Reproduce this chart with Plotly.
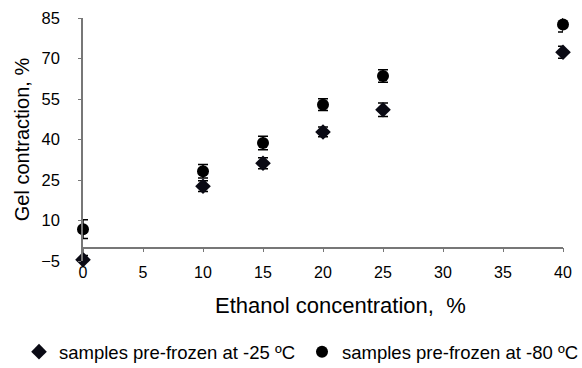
import plotly.graph_objects as go

ethanol = [0, 10, 15, 20, 25, 40]
gel_25 = [-4.5, 22.7, 31.2, 42.8, 51.0, 72.3]
err_25 = [1.5, 2.0, 2.0, 1.8, 2.5, 2.2]
gel_80 = [6.8, 28.2, 38.7, 52.9, 63.5, 82.6]
err_80 = [3.5, 2.5, 2.5, 2.2, 2.3, 2.8]
x_ticks = [0, 5, 10, 15, 20, 25, 30, 35, 40]
y_ticks = [-5, 10, 25, 40, 55, 70, 85]
x_title = "Ethanol concentration,  %"
y_title = "Gel contraction, %"

fig = go.Figure()
fig.add_trace(go.Scatter(
    x=ethanol, y=gel_25, mode="markers", name="samples pre-frozen at -25 ºC",
    marker=dict(symbol="diamond", size=12, color="#0a0a14"),
    error_y=dict(type="data", array=err_25, color="#000", thickness=1.5, width=5),
    cliponaxis=False, legend="legend"))
fig.add_trace(go.Scatter(
    x=ethanol, y=gel_80, mode="markers", name="samples pre-frozen at -80 ºC",
    marker=dict(symbol="circle", size=12, color="#000"),
    error_y=dict(type="data", array=err_80, color="#000", thickness=1.5, width=5),
    cliponaxis=False, legend="legend2"))
# invisible trace to carry the zero-crossing x axis
fig.add_trace(go.Scatter(x=[0, 40], y=[0, 0], xaxis="x2", mode="markers",
                         marker=dict(opacity=0), showlegend=False, hoverinfo="skip"))

font = "Liberation Sans, Arial, sans-serif"
L, W, T, H = 83, 480, 18, 243
leg_common = dict(orientation="h", xanchor="left", y=-0.375, yanchor="middle",
                  font=dict(size=18.5), itemwidth=30, bgcolor="rgba(0,0,0,0)")
fig.update_layout(
    width=582, height=368,
    margin=dict(l=83, r=19, t=18, b=107, autoexpand=False),
    paper_bgcolor="white", plot_bgcolor="white",
    font=dict(family=font, color="#000", size=16),
    xaxis=dict(range=[0, 40], tickvals=x_ticks, showline=False, showgrid=False,
               zeroline=False, ticks="", tickfont=dict(size=16), automargin=False),
    xaxis2=dict(range=[0, 40], tickvals=x_ticks, overlaying="x", anchor="free",
                position=5 / 90, side="bottom", showline=True, linecolor="#777",
                linewidth=1.5, ticks="outside", ticklen=4, tickcolor="#777",
                showticklabels=False, showgrid=False, zeroline=False),
    yaxis=dict(range=[-5, 85], tickvals=y_ticks, showline=True, linecolor="#777",
               linewidth=1.5, ticks="outside", ticklen=3, tickcolor="#777",
               showgrid=False, zeroline=False, tickfont=dict(size=16.5), automargin=False,
               ticklabelstandoff=15,
               title=dict(text=y_title, font=dict(size=20), standoff=6)),
    showlegend=True,
    legend=dict(x=(19 - L) / W, **leg_common),
    legend2=dict(x=(302 - L) / W, **leg_common),
    annotations=[dict(text=x_title, xref="paper", yref="paper",
                      x=(340 - L) / W, y=-(305 - (T + H)) / H,
                      xanchor="center", yanchor="middle", showarrow=False,
                      font=dict(size=22))],
)
fig.write_html("out.html")
